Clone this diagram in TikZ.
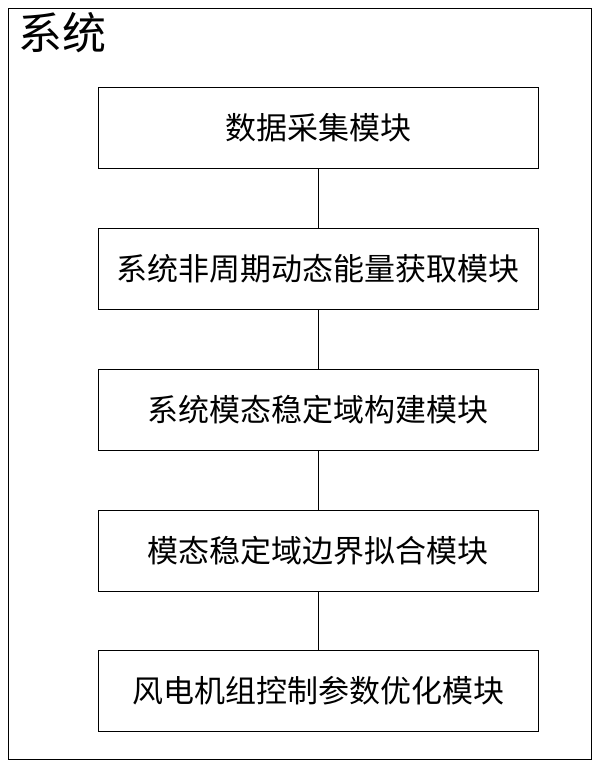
\documentclass[tikz,border=0pt]{standalone}
\usepackage{fontspec}
\setmainfont{Noto Sans CJK SC}
\begin{document}
\begin{tikzpicture}[x=1pt,y=-1pt,
  mod/.style={draw,line width=0.9pt,minimum width=440pt,minimum height=81pt,font=\fontsize{31}{34}\selectfont,inner sep=0pt},
  conn/.style={line width=0.9pt}]
\useasboundingbox (0,0) rectangle (600,767);
\draw[line width=0.9pt] (8,8) rectangle (591,759);
\node[anchor=north west,font=\fontsize{44}{48}\selectfont,inner sep=0pt] (title) at (18,12) {系统};
\node[mod] (a) at (318,128) {数据采集模块};
\node[mod] (b) at (318,269) {系统非周期动态能量获取模块};
\node[mod] (c) at (318,410) {系统模态稳定域构建模块};
\node[mod] (d) at (318,551) {模态稳定域边界拟合模块};
\node[mod] (e) at (318,691) {风电机组控制参数优化模块};
\draw[conn] (a) -- (b);
\draw[conn] (b) -- (c);
\draw[conn] (c) -- (d);
\draw[conn] (d) -- (e);
\end{tikzpicture}
\end{document}
